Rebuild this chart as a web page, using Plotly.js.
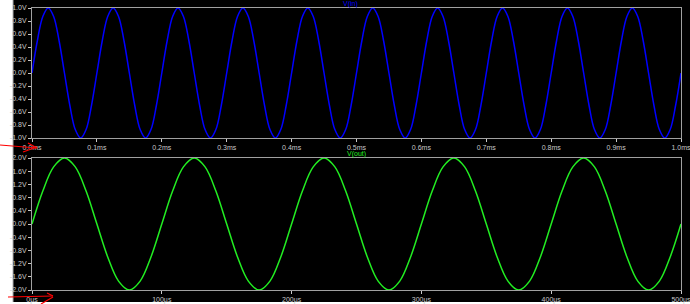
<!DOCTYPE html>
<html>
<head>
<meta charset="utf-8">
<script src="https://cdn.plot.ly/plotly-3.0.1.min.js"></script>
<style>html,body{margin:0;padding:0;background:#fff;}#chart{width:690px;height:304px;}</style>
</head>
<body>
<div id="chart"></div>
<script>
// V(in): sampled every 1/120 ms (12 samples per 0.1 ms cycle), 0..1.0 ms
var vin = [
  0,0.5,0.87,1,0.87,0.5,0,-0.5,-0.87,-1,-0.87,-0.5,
  0,0.5,0.87,1,0.87,0.5,0,-0.5,-0.87,-1,-0.87,-0.5,
  0,0.5,0.87,1,0.87,0.5,0,-0.5,-0.87,-1,-0.87,-0.5,
  0,0.5,0.87,1,0.87,0.5,0,-0.5,-0.87,-1,-0.87,-0.5,
  0,0.5,0.87,1,0.87,0.5,0,-0.5,-0.87,-1,-0.87,-0.5,
  0,0.5,0.87,1,0.87,0.5,0,-0.5,-0.87,-1,-0.87,-0.5,
  0,0.5,0.87,1,0.87,0.5,0,-0.5,-0.87,-1,-0.87,-0.5,
  0,0.5,0.87,1,0.87,0.5,0,-0.5,-0.87,-1,-0.87,-0.5,
  0,0.5,0.87,1,0.87,0.5,0,-0.5,-0.87,-1,-0.87,-0.5,
  0,0.5,0.87,1,0.87,0.5,0,-0.5,-0.87,-1,-0.87,-0.5,
  0];
// V(out): sampled every 100/12 µs, 0..500 µs
var vout = [
  0,1,1.73,2,1.73,1,0,-1,-1.73,-2,-1.73,-1,
  0,1,1.73,2,1.73,1,0,-1,-1.73,-2,-1.73,-1,
  0,1,1.73,2,1.73,1,0,-1,-1.73,-2,-1.73,-1,
  0,1,1.73,2,1.73,1,0,-1,-1.73,-2,-1.73,-1,
  0,1,1.73,2,1.73,1,0,-1,-1.73,-2,-1.73,-1,
  0];
var topXVals = [0,0.1,0.2,0.3,0.4,0.5,0.6,0.7,0.8,0.9,1.0];
var topXText = ["0.0ms","0.1ms","0.2ms","0.3ms","0.4ms","0.5ms","0.6ms","0.7ms","0.8ms","0.9ms","1.0ms"];
var topYVals = [1,0.8,0.6,0.4,0.2,0,-0.2,-0.4,-0.6,-0.8,-1];
var topYText = ["1.0V","0.8V","0.6V","0.4V","0.2V","0.0V","-0.2V","-0.4V","-0.6V","-0.8V","-1.0V"];
var botXVals = [0,100,200,300,400,500];
var botXText = ["0µs","100µs","200µs","300µs","400µs","500µs"];
var botYVals = [2,1.6,1.2,0.8,0.4,0,-0.4,-0.8,-1.2,-1.6,-2];
var botYText = ["2.0V","1.6V","1.2V","0.8V","0.4V","0.0V","-0.4V","-0.8V","-1.2V","-1.6V","-2.0V"];

var W = 690, H = 304;
function px(x){return x/W;}
function py(y){return 1 - y/H;}

var tickFont = {family:"Liberation Sans, Arial, sans-serif", size:7, color:"#c8c8c8"};
var axBase = {showgrid:false, zeroline:false, showline:true, linecolor:"#a0a0a0", linewidth:1,
  mirror:true, ticks:"outside", ticklen:3, tickcolor:"#c8c8c8", tickfont:tickFont, fixedrange:true,
  ticklabeloverflow:"allow"};

var traces = [
  {y: vin, x0: 0, dx: 1/120, type:"scatter", mode:"lines", line:{color:"#0000ff", width:1.5, shape:"spline"},
   xaxis:"x", yaxis:"y", hoverinfo:"skip"},
  {y: vout, x0: 0, dx: 100/12, type:"scatter", mode:"lines", line:{color:"#22ee22", width:1.5, shape:"spline"},
   xaxis:"x2", yaxis:"y2", hoverinfo:"skip"}
];

function red(x0,y0,x1,y1){return {type:"line", xref:"paper", yref:"paper", x0:px(x0), y0:py(y0), x1:px(x1), y1:py(y1), line:{color:"#ff0000", width:1.2}, layer:"above"};}

var layout = {
  width: W, height: H, margin:{l:0,r:0,t:0,b:0,pad:0},
  paper_bgcolor:"#000000", plot_bgcolor:"#000000", showlegend:false,
  xaxis: Object.assign({}, axBase, {domain:[px(32), px(681)], range:[0,1.0], tickvals:topXVals, ticktext:topXText, anchor:"y"}),
  yaxis: Object.assign({}, axBase, {domain:[py(138), py(8)], range:[-1,1], tickvals:topYVals, ticktext:topYText, anchor:"x"}),
  xaxis2: Object.assign({}, axBase, {domain:[px(32), px(681)], range:[0,500], tickvals:botXVals, ticktext:botXText, anchor:"y2"}),
  yaxis2: Object.assign({}, axBase, {domain:[py(290), py(158)], range:[-2,2], tickvals:botYVals, ticktext:botYText, anchor:"x2"}),
  annotations: [
    {text:"V(in)", xref:"paper", yref:"paper", x:px(351), y:py(4), showarrow:false, xanchor:"center", yanchor:"middle",
     font:{family:"Liberation Sans, Arial, sans-serif", size:7, color:"#0000ff"}},
    {text:"V(out)", xref:"paper", yref:"paper", x:px(356), y:py(154), showarrow:false, xanchor:"center", yanchor:"middle",
     font:{family:"Liberation Sans, Arial, sans-serif", size:7, color:"#22ee22"}}
  ],
  shapes: [
    {type:"rect", xref:"paper", yref:"paper", x0:0, x1:px(13), y0:0, y1:1, fillcolor:"#ffffff", line:{width:0}, layer:"below"},
    {type:"rect", xref:"paper", yref:"paper", x0:0, x1:1, y0:0, y1:1-302/H, fillcolor:"#ffffff", line:{width:0}, layer:"below"},
    {type:"line", xref:"paper", yref:"paper", x0:px(13), x1:px(13), y0:1-302/H, y1:1, line:{color:"#b0b0b0", width:1}},
    red(0,145,37,148), red(28,143,37,148), red(23,152,37,147),
    red(8,297,53,296), red(47,293,53,296), red(41,304,53,297)
  ]
};
Plotly.newPlot("chart", traces, layout, {staticPlot:true, displayModeBar:false});
</script>
</body>
</html>
